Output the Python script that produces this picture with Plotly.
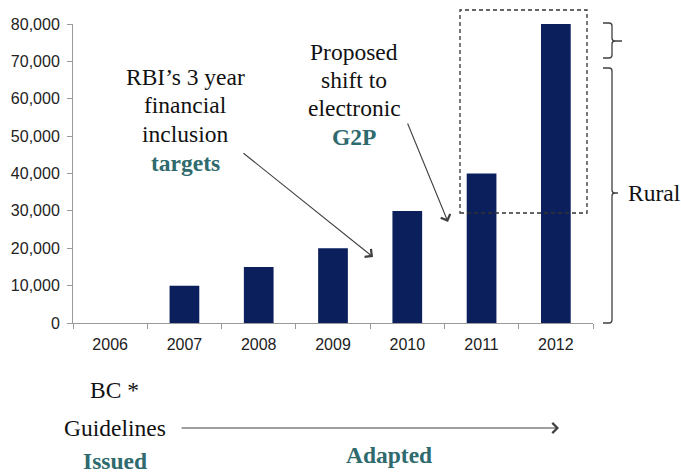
import plotly.graph_objects as go

# ---- data ----
years = ["2006", "2007", "2008", "2009", "2010", "2011", "2012"]
values = [0, 10000, 15000, 20000, 30000, 40000, 80000]
y_ticks = [0, 10000, 20000, 30000, 40000, 50000, 60000, 70000, 80000]

W, H = 681, 473
L, R, T, B = 73, 88, 24, 150
PW, PH = W - L - R, H - T - B

def px(x):
    return (x - L) / PW

def py(y):
    return (H - B - y) / PH

NAVY = "#0B1F5C"
TEAL = "#2E6A6E"
GREY = "#404040"
SERIF = "Liberation Serif, Times New Roman, serif"
SANS = "Liberation Sans, Arial, sans-serif"

fig = go.Figure(go.Bar(x=years, y=values, marker=dict(color=NAVY, line=dict(width=0))))

fig.update_layout(
    width=W, height=H,
    margin=dict(l=L, r=R, t=T, b=B),
    paper_bgcolor="white", plot_bgcolor="white",
    bargap=0.6, showlegend=False,
    xaxis=dict(type="category", showline=True, linecolor="#9a9a9a", linewidth=1,
               ticks="outside", tickson="boundaries", ticklen=5, tickcolor="#9a9a9a",
               showgrid=False, zeroline=False, ticklabelstandoff=7,
               tickfont=dict(family=SANS, size=16, color="#222")),
    yaxis=dict(range=[0, 80000], tickvals=y_ticks, tickformat=",", showline=True,
               linecolor="#9a9a9a", linewidth=1, ticks="outside", ticklen=5,
               tickcolor="#9a9a9a", showgrid=False, zeroline=False, ticklabelstandoff=4,
               tickfont=dict(family=SANS, size=16, color="#222")),
)

# dashed box
fig.add_shape(type="rect", xref="paper", yref="paper",
              x0=px(460), x1=px(587), y0=py(213), y1=py(10),
              line=dict(color="#333", width=1.3, dash="4px,3px"))

# braces
def brace(top, bot, tip, xl=603, xv=612, xt=622):
    r = 3
    pts = (f"M{px(xl)},{py(top)} L{px(xv - r)},{py(top)} Q{px(xv)},{py(top)} {px(xv)},{py(top + r)} "
           f"L{px(xv)},{py(tip - r)} Q{px(xv)},{py(tip)} {px(xv + r)},{py(tip)} L{px(xt)},{py(tip)} "
           f"M{px(xv + r)},{py(tip)} Q{px(xv)},{py(tip)} {px(xv)},{py(tip + r)} "
           f"L{px(xv)},{py(bot - r)} Q{px(xv)},{py(bot)} {px(xv - r)},{py(bot)} L{px(xl)},{py(bot)}")
    fig.add_shape(type="path", xref="paper", yref="paper", path=pts,
                  line=dict(color=GREY, width=1.3))

brace(23, 58, 41)
brace(68, 323, 193, xt=618)

def text(t, x, y, size=23.5, color="#111", bold=False, xanchor="center"):
    if bold:
        t = f"<b>{t}</b>"
    fig.add_annotation(text=t, xref="paper", yref="paper", x=px(x), y=py(y),
                       showarrow=False, xanchor=xanchor, yanchor="middle",
                       font=dict(family=SERIF, size=size, color=color))

text("Rural", 626, 193, xanchor="left")

text("RBI’s 3 year", 185, 77)
text("financial", 185, 105)
text("inclusion", 185, 134)
text("targets", 185, 163, color=TEAL, bold=True)

text("Proposed", 354, 52)
text("shift to", 354, 80)
text("electronic", 354, 108)
text("G2P", 354, 137, color=TEAL, bold=True)

text("BC *", 114, 390)
text("Guidelines", 115, 428)
text("Issued", 115, 461, color=TEAL, bold=True)
text("Adapted", 389, 455, color=TEAL, bold=True)

def arrow(x0, y0, x1, y1):
    fig.add_annotation(xref="paper", yref="paper", x=px(x1), y=py(y1),
                       ax=x0 - x1, ay=y0 - y1, text="", showarrow=True,
                       arrowhead=4, arrowsize=1.8, arrowwidth=1.1, arrowcolor=GREY)

arrow(242, 152, 373, 257)
arrow(407, 122, 448, 222)
arrow(180, 428, 559, 428)

fig.write_html("out.html", config={"displayModeBar": False},
               post_script="document.body.style.margin='0';document.body.style.overflow='hidden';")
